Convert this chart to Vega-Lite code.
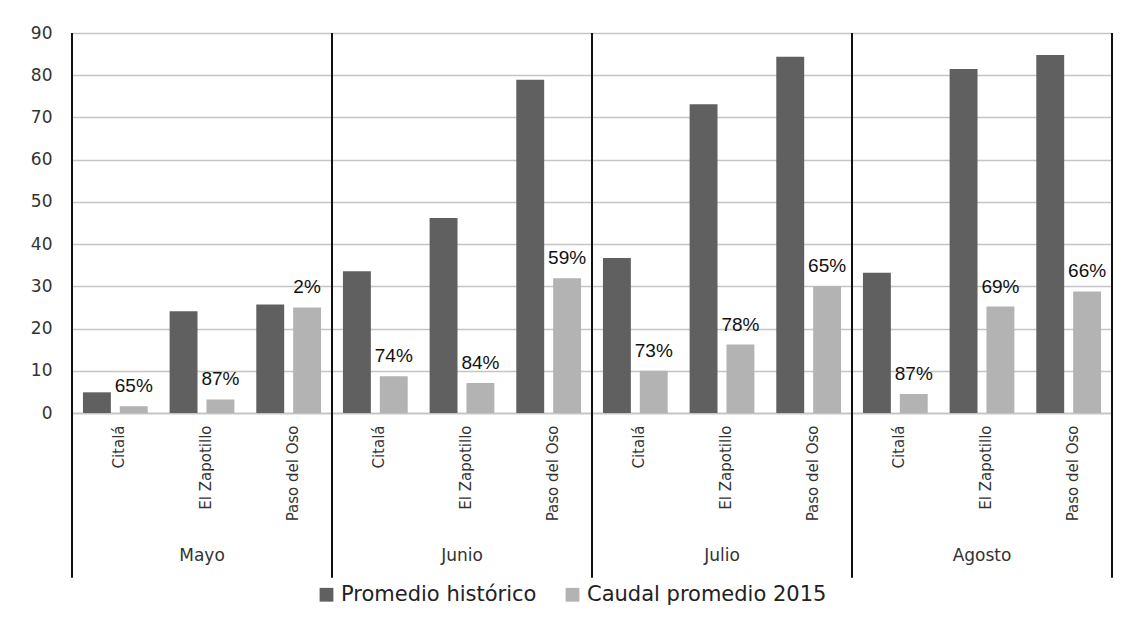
{
  "$schema": "https://vega.github.io/schema/vega-lite/v6.json",
  "background": "white",
  "padding": {"left": 30, "top": 24, "right": 10, "bottom": 8},
  "bounds": "flush",
  "data": {
    "values": [
      {"month": "Mayo", "station": "Citalá", "series": "Promedio histórico", "value": 4.9},
      {"month": "Mayo", "station": "Citalá", "series": "Caudal promedio 2015", "value": 1.6, "pct": "65%"},
      {"month": "Mayo", "station": "El Zapotillo", "series": "Promedio histórico", "value": 24.1},
      {"month": "Mayo", "station": "El Zapotillo", "series": "Caudal promedio 2015", "value": 3.2, "pct": "87%"},
      {"month": "Mayo", "station": "Paso del Oso", "series": "Promedio histórico", "value": 25.7},
      {"month": "Mayo", "station": "Paso del Oso", "series": "Caudal promedio 2015", "value": 25.0, "pct": "2%"},
      {"month": "Junio", "station": "Citalá", "series": "Promedio histórico", "value": 33.6},
      {"month": "Junio", "station": "Citalá", "series": "Caudal promedio 2015", "value": 8.7, "pct": "74%"},
      {"month": "Junio", "station": "El Zapotillo", "series": "Promedio histórico", "value": 46.2},
      {"month": "Junio", "station": "El Zapotillo", "series": "Caudal promedio 2015", "value": 7.1, "pct": "84%"},
      {"month": "Junio", "station": "Paso del Oso", "series": "Promedio histórico", "value": 78.9},
      {"month": "Junio", "station": "Paso del Oso", "series": "Caudal promedio 2015", "value": 31.9, "pct": "59%"},
      {"month": "Julio", "station": "Citalá", "series": "Promedio histórico", "value": 36.7},
      {"month": "Julio", "station": "Citalá", "series": "Caudal promedio 2015", "value": 10.0, "pct": "73%"},
      {"month": "Julio", "station": "El Zapotillo", "series": "Promedio histórico", "value": 73.1},
      {"month": "Julio", "station": "El Zapotillo", "series": "Caudal promedio 2015", "value": 16.2, "pct": "78%"},
      {"month": "Julio", "station": "Paso del Oso", "series": "Promedio histórico", "value": 84.4},
      {"month": "Julio", "station": "Paso del Oso", "series": "Caudal promedio 2015", "value": 30.0, "pct": "65%"},
      {"month": "Agosto", "station": "Citalá", "series": "Promedio histórico", "value": 33.2},
      {"month": "Agosto", "station": "Citalá", "series": "Caudal promedio 2015", "value": 4.5, "pct": "87%"},
      {"month": "Agosto", "station": "El Zapotillo", "series": "Promedio histórico", "value": 81.5},
      {"month": "Agosto", "station": "El Zapotillo", "series": "Caudal promedio 2015", "value": 25.2, "pct": "69%"},
      {"month": "Agosto", "station": "Paso del Oso", "series": "Promedio histórico", "value": 84.8},
      {"month": "Agosto", "station": "Paso del Oso", "series": "Caudal promedio 2015", "value": 28.8, "pct": "66%"}
    ]
  },
  "facet": {
    "column": {
      "field": "month",
      "type": "nominal",
      "sort": ["Mayo", "Junio", "Julio", "Agosto"],
      "title": null,
      "header": {
        "labelOrient": "bottom",
        "labelFont": "DejaVu Sans",
        "labelFontSize": 17,
        "labelColor": "#333333",
        "labelPadding": 27
      }
    }
  },
  "spacing": 0,
  "spec": {
    "width": 260,
    "height": 380,
    "layer": [
      {
        "mark": {"type": "bar"},
        "encoding": {
          "x": {
            "field": "station",
            "type": "nominal",
            "sort": ["Citalá", "El Zapotillo", "Paso del Oso"],
            "scale": {"paddingInner": 0, "paddingOuter": 0},
            "title": null,
            "axis": {
              "labelAngle": -90,
              "labelAlign": "right",
              "labelBaseline": "middle",
              "labelFont": "DejaVu Sans",
              "labelFontSize": 15,
              "labelColor": "#333333",
              "labelPadding": 12,
              "labelOffset": 4,
              "ticks": false,
              "domainColor": "#bdbdbd",
              "domainWidth": 1.5,
              "grid": false
            }
          },
          "xOffset": {
            "field": "series",
            "type": "nominal",
            "sort": ["Promedio histórico", "Caudal promedio 2015"],
            "scale": {"paddingInner": 0.243, "paddingOuter": 0.297}
          },
          "y": {
            "field": "value",
            "type": "quantitative",
            "title": null,
            "scale": {"domain": [0, 90]},
            "axis": {
              "values": [0, 10, 20, 30, 40, 50, 60, 70, 80, 90],
              "labelFont": "DejaVu Sans",
              "labelFontSize": 17,
              "labelColor": "#333333",
              "labelPadding": 20,
              "ticks": false,
              "domain": false,
              "gridColor": "#c4c4c4",
              "gridWidth": 1.5
            }
          },
          "color": {
            "field": "series",
            "type": "nominal",
            "sort": ["Promedio histórico", "Caudal promedio 2015"],
            "scale": {
              "domain": ["Promedio histórico", "Caudal promedio 2015"],
              "range": ["#606060", "#b3b3b3"]
            },
            "legend": {
              "title": null,
              "orient": "bottom",
              "direction": "horizontal",
              "symbolType": "square",
              "symbolSize": 190,
              "symbolStrokeWidth": 0,
              "labelFont": "DejaVu Sans",
              "labelFontSize": 21,
              "labelColor": "#222222",
              "labelLimit": 400,
              "columnPadding": 25,
              "offset": 5
            }
          }
        }
      },
      {
        "transform": [{"filter": "datum.series == 'Caudal promedio 2015'"}],
        "mark": {
          "type": "text",
          "baseline": "bottom",
          "dy": -10,
          "font": "Liberation Sans",
          "fontSize": 19,
          "color": "#111111"
        },
        "encoding": {
          "x": {"field": "station", "type": "nominal", "sort": ["Citalá", "El Zapotillo", "Paso del Oso"]},
          "xOffset": {"field": "series", "type": "nominal", "sort": ["Promedio histórico", "Caudal promedio 2015"]},
          "y": {"field": "value", "type": "quantitative"},
          "text": {"field": "pct", "type": "nominal"}
        }
      },
      {
        "transform": [{"filter": "datum.station == 'Citalá' && datum.series == 'Promedio histórico'"}],
        "mark": {"type": "rule", "color": "#111111", "strokeWidth": 2},
        "encoding": {
          "x": {"field": "station", "type": "nominal", "bandPosition": 0, "sort": ["Citalá", "El Zapotillo", "Paso del Oso"]},
          "y": {"datum": 90, "type": "quantitative"},
          "y2": {"datum": -39}
        }
      },
      {
        "transform": [{"filter": "datum.month == 'Agosto' && datum.station == 'Paso del Oso' && datum.series == 'Promedio histórico'"}],
        "mark": {"type": "rule", "color": "#111111", "strokeWidth": 2},
        "encoding": {
          "x": {"field": "station", "type": "nominal", "bandPosition": 1, "sort": ["Citalá", "El Zapotillo", "Paso del Oso"]},
          "y": {"datum": 90, "type": "quantitative"},
          "y2": {"datum": -39}
        }
      }
    ]
  },
  "config": {
    "view": {"stroke": null},
    "legend": {"layout": {"bottom": {"anchor": "middle"}}}
  }
}
